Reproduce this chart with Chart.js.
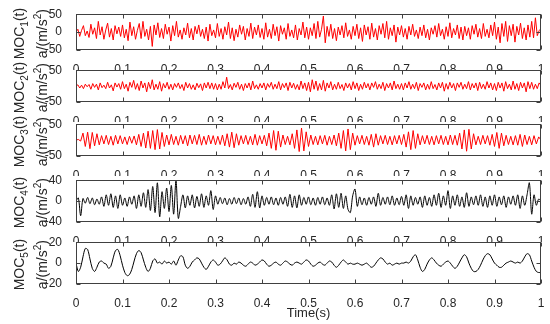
<!DOCTYPE html>
<html><head><meta charset="utf-8">
<script src="https://cdn.jsdelivr.net/npm/chart.js@4.4.1/dist/chart.umd.min.js"></script>
<style>
html,body{margin:0;padding:0;background:#fff;}
#wrap{position:relative;width:550px;height:324px;overflow:hidden;background:#fff;}
canvas{position:absolute;left:0;}
</style></head><body><div id="wrap"></div>
<script>
// ---- data (acceleration, m/s^2), evenly sampled over 0..1 s ----
const moc1 = [
0,8,-12,5,18,-10,3,-15,22,-6,12,-18,30,-8,15,-20,6,25,-14,10,-22,18,-5,14,-12,
20,-16,8,-24,28,-10,15,-20,5,24,-18,30,-12,8,-22,16,-40,20,-8,26,-15,10,-18,22,-6,
14,-25,18,-10,30,-14,6,-20,12,-8,25,-16,10,-22,16,-5,20,-12,8,-18,14,-25,22,-10,6,
-16,24,-12,10,-20,15,-8,28,-18,12,-24,8,-14,20,-6,16,-22,10,-12,25,-18,14,-8,20,-15,
10,-20,26,-14,8,-18,22,-10,15,-25,18,-6,12,-20,24,-12,6,-16,20,-22,10,-8,28,-16,14,
-20,12,-10,24,-18,30,-14,8,45,-30,16,-12,22,-18,10,-24,14,-8,18,-16,26,-12,6,-20,16,
-10,22,-18,12,-26,20,-8,15,-20,25,-14,10,-22,18,-6,24,-16,30,-20,12,-10,20,-28,14,-8,
18,-14,10,-20,16,-8,22,-12,6,-18,14,-10,20,-16,8,-22,12,-6,18,-14,24,-10,8,-20,15,
-12,26,-16,10,-8,20,-18,14,-22,16,-10,12,-20,18,-6,22,-14,10,-18,24,-12,8,-16,20,-10,
28,-20,14,-30,24,-12,30,-26,18,-10,22,-28,16,-8,25,-18,12,-22,20,-14,30,-16,40,-10,4,
10];
const moc2 = [
0,4,-6,3,-8,6,-2,5,-10,8,-4,6,-12,10,-5,3,-8,12,-6,4,-15,10,-3,8,-10,
14,-8,6,-16,12,-4,18,-10,8,-14,16,-6,10,-18,12,-8,20,-12,6,-10,14,-16,8,-6,12,
-10,6,-12,8,-4,10,-8,5,-14,12,-6,8,-10,4,-12,9,-5,7,-14,10,-6,12,-8,10,-10,
8,-12,6,-10,14,-6,28,-8,5,-12,9,-4,12,-10,6,-14,8,-6,10,-12,16,-8,4,-10,8,
-6,10,-12,8,-4,12,-10,6,-8,14,-12,8,-5,10,-14,12,-6,9,-10,5,-12,16,-8,10,-14,
12,-18,20,-10,16,-14,8,-12,18,-16,10,-6,14,-12,6,-10,12,-8,5,-14,10,-6,8,-12,14,
-8,10,-14,6,-10,12,-6,8,-12,10,-4,14,-10,6,-8,12,-14,8,-6,10,-12,16,-8,6,-10,
8,-12,10,-6,14,-10,6,-8,12,-14,8,-4,10,-12,6,-10,14,-8,5,-12,10,-6,12,-16,8,
-10,12,-6,8,-14,10,-4,12,-10,6,-8,14,-12,8,-6,10,-14,12,-8,6,-10,14,-6,10,-12,
8,-14,12,-6,10,-16,14,-8,6,-12,16,-10,8,-14,12,-6,10,-18,14,-8,12,-10,6,-8,10,
2];
const moc3 = [
0,2,-3,22,-20,25,-27,24,-18,20,-15,14,-12,15,-14,12,-16,15,-12,14,
-12,10,-14,12,-10,13,-15,18,-20,22,-25,28,-26,30,-30,33,-28,24,-20,16,
-15,18,-14,12,-16,15,-12,14,-18,16,-12,15,-14,18,-16,12,-14,16,-12,14,
-15,12,-14,16,-18,20,-22,25,-24,20,-16,14,-12,15,-14,12,-15,18,-16,14,
-12,15,-18,22,-26,30,-32,28,-22,16,-14,12,-15,20,-26,32,-36,38,-34,26,
-20,16,-14,12,-15,14,-12,15,-16,12,-14,16,-18,22,-26,30,-34,35,-30,22,
-16,14,-12,15,-14,12,-16,18,-22,20,-16,14,-12,15,-14,12,-15,14,-12,15,
-14,18,-22,26,-30,30,-26,20,-15,14,-12,15,-14,12,-15,14,-12,15,-14,12,
-15,16,-14,15,-16,22,-28,32,-35,34,-28,20,-15,12,-14,15,-12,14,-16,18,
-20,24,-26,22,-18,15,-14,12,-15,14,-16,18,-20,16,-14,12,-15,14,-12,10,
0];
const moc4 = [
0,6,-28,5,-4,7,-5,6,-7,4,-6,8,-10,12,-8,14,-12,10,-14,12,
-8,6,-10,8,-6,10,-14,12,-10,16,-12,22,-18,28,-22,35,-30,18,-14,25,
-20,30,-25,40,-33,-10,12,-13,10,-8,12,-13,9,-10,14,-12,10,-8,20,-16,
10,-6,7,-5,6,-7,5,-6,7,-5,6,-7,5,-6,8,-10,13,-12,18,-13,
10,-8,7,-6,8,-7,6,-8,7,-6,8,-10,13,-12,10,-13,12,-8,7,-6,
8,-7,6,-8,7,-6,8,-7,6,-8,12,-15,14,-12,15,-14,10,-16,-22,10,
23,-10,8,-7,6,-8,7,-6,8,-10,15,-8,7,-6,8,-7,10,-8,6,-7,
9,-8,12,-14,10,-8,7,-6,8,-12,10,-8,7,-10,12,-8,15,-12,10,-8,
20,-14,10,-8,12,-10,8,-12,16,-10,8,-7,10,-8,12,-10,8,-12,10,-8,
12,-10,8,-7,10,-12,8,-6,10,-8,12,-14,10,-8,12,35,-25,12,-8,4,
0];
const moc5 = [
0,-8,-4,6,14,13,4,-5,-8,-4,1,2,0,-1,-5,-3,5,12,13,7,
-2,-9,-12,-11,-6,2,9,12,10,3,-4,-8,-5,2,4,0,1,-1,2,0,
1,-1,2,-2,3,7,6,-2,-5,-3,1,3,5,4,0,-4,-6,-3,1,3,
1,-2,-1,2,5,3,-1,-2,0,-1,1,0,-2,-3,-1,1,0,-2,-1,1,
3,2,-1,-3,-2,0,1,-1,-2,0,2,1,-1,-2,0,1,0,-1,1,3,
2,-1,-3,-2,0,1,-1,-2,0,2,1,-2,-4,-2,1,3,1,-1,0,-1,
-1,0,-1,-2,-1,0,-2,-4,-3,0,3,5,4,1,-1,0,-2,-1,0,-1,
0,0,1,0,2,6,8,3,-4,-8,-6,-1,3,5,3,0,-2,-3,-1,1,
2,0,-3,-5,-3,1,5,8,6,0,-5,-8,-8,-6,-2,3,7,9,8,4,
0,-2,-4,-4,-2,0,1,2,1,0,1,0,2,6,9,8,2,-4,-8,-9,
-9];
const seriesNames = ['1','2','3','4','5'];
const yLimits = [50, 50, 50, 40, 20];
const xTickStep = 0.1;
const xTitle = 'Time(s)';
const yUnit = ['a/(m/s', '2', ')'];

// ---- layout / style ----
const FONT = "Arial, 'Liberation Sans', sans-serif";
const TXT = '#262626';
const boxes = [[11,50],[67,102],[121,156],[177,222],[239,284]];
const LEFT = 76, RIGHT = 541, PADTOP = 10;
const colors = ['#ff0000','#ff0000','#ff0000','#000000','#000000'];
const wrap = document.getElementById('wrap');

function drawPieces(ctx, pieces, x, cy){
  ctx.save();
  ctx.translate(x, cy);
  ctx.rotate(-Math.PI/2);
  let total = 0;
  pieces.forEach(p=>{ ctx.font = p[1]+'px '+FONT; total += ctx.measureText(p[0]).width; });
  let px = -total/2;
  ctx.fillStyle = TXT; ctx.textBaseline = 'alphabetic'; ctx.textAlign = 'left';
  pieces.forEach(p=>{ ctx.font = p[1]+'px '+FONT; ctx.fillText(p[0], px, p[2]); px += ctx.measureText(p[0]).width; });
  ctx.restore();
}

const frame = {
  id: 'frame',
  afterDatasetsDraw(chart, args, opts){
    const {ctx, chartArea:a, scales} = chart;
    ctx.save();
    ctx.strokeStyle = '#404040'; ctx.lineWidth = 1;
    const L = Math.round(a.left)+0.5, T = Math.round(a.top)+0.5, R = Math.round(a.right)-0.5, B = Math.round(a.bottom)-0.5;
    ctx.strokeRect(L, T, R-L, B-T);
    const tl = 4;
    ctx.beginPath();
    scales.x.ticks.forEach(t=>{
      const x = Math.round(scales.x.getPixelForValue(t.value))+0.5;
      ctx.moveTo(x,B); ctx.lineTo(x,B-tl); ctx.moveTo(x,T); ctx.lineTo(x,T+tl);
    });
    scales.y.ticks.forEach(t=>{
      const y = Math.round(scales.y.getPixelForValue(t.value))+0.5;
      ctx.moveTo(L,y); ctx.lineTo(L+tl,y); ctx.moveTo(R,y); ctx.lineTo(R-tl,y);
    });
    ctx.stroke();
    const cy = (a.top + a.bottom)/2 + 1.5;
    drawPieces(ctx, [['MOC',14,0],[opts.name,10,4],['(t)',14,0]], 24, cy);
    drawPieces(ctx, [[yUnit[0],14,0],[yUnit[1],10,-6],[yUnit[2],14,0]], 47, cy);
    ctx.restore();
  }
};

const all = [moc1, moc2, moc3, moc4, moc5];
all.forEach((vals, i)=>{
  const [top, bottom] = boxes[i];
  const isLast = i === all.length-1;
  const xH = isLast ? 40 : 20;
  const h = PADTOP + (bottom-top) + xH;
  const cv = document.createElement('canvas');
  cv.style.top = (top-PADTOP)+'px';
  cv.style.width = '550px'; cv.style.height = h+'px';
  cv.width = 550; cv.height = h;
  wrap.appendChild(cv);
  const lim = yLimits[i];
  new Chart(cv, {
    type: 'line',
    data: { datasets: [{
      data: vals.map((v,k)=>({x: k/(vals.length-1), y: v})),
      borderColor: colors[i], borderWidth: 1, pointRadius: 0,
      tension: (i >= 3) ? 0.3 : 0, fill: false
    }]},
    options: {
      responsive: false, animation: false, devicePixelRatio: 1,
      layout: { padding: { left: 0, right: 550-RIGHT, top: PADTOP, bottom: 0 } },
      plugins: { legend: {display:false}, tooltip: {enabled:false}, frame: { name: seriesNames[i] } },
      scales: {
        x: { type:'linear', min:0, max:1,
          grid: {display:false}, border: {display:false},
          ticks: { stepSize: xTickStep, autoSkip:false, maxRotation:0, padding:4, color:TXT,
                   font:{family:FONT, size:12}, callback: v => String(Math.round(v*10)/10) },
          title: isLast ? { display:true, text:xTitle, color:TXT, font:{family:FONT,size:13}, padding:{top:2,bottom:3} } : {display:false},
          afterFit(s){ s.height = xH; }
        },
        y: { min:-lim, max:lim,
          grid: {display:false}, border: {display:false},
          ticks: { stepSize: lim, padding:6, color:TXT, font:{family:FONT, size:12} },
          afterFit(s){ s.width = LEFT; }
        }
      }
    },
    plugins: [frame]
  });
});
</script></body></html>
